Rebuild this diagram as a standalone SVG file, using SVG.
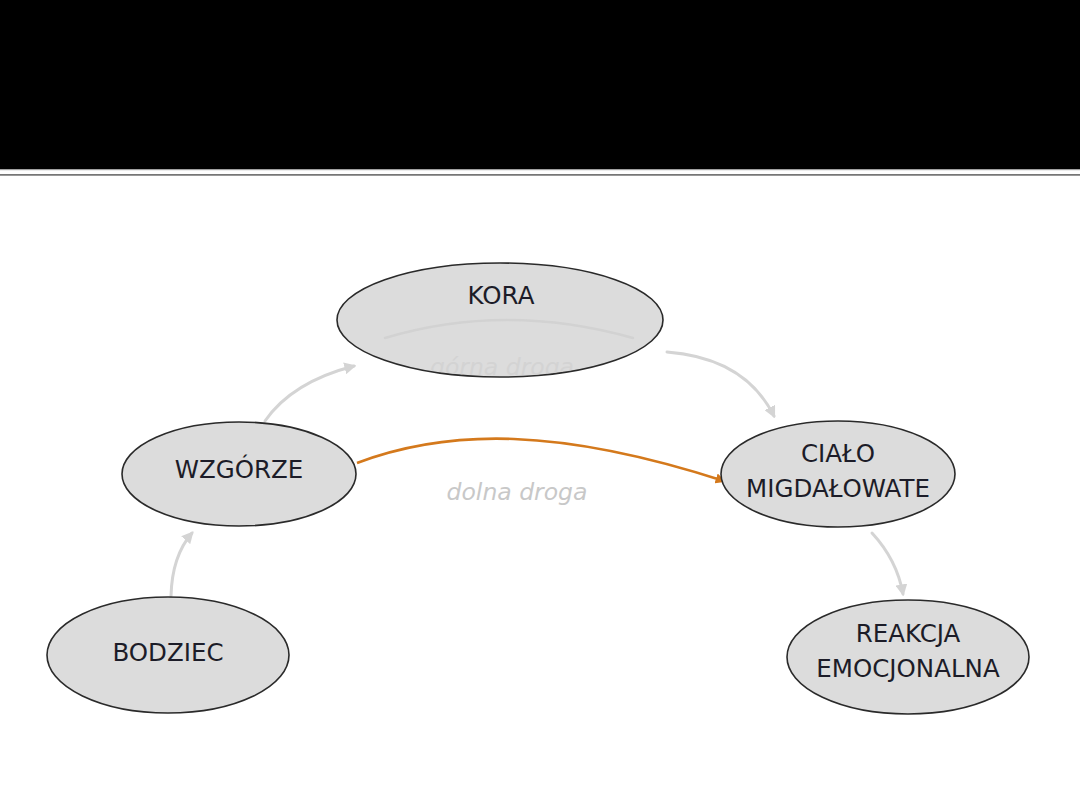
<svg xmlns="http://www.w3.org/2000/svg" width="1080" height="810" viewBox="0 0 1080 810">
<defs>
<style>
.node ellipse{fill:#dcdcdc;stroke:#2a2a2a;stroke-width:1.6}
.lbl{font-family:"DejaVu Sans",sans-serif;font-size:24.5px;fill:#1c1c28;text-anchor:middle}
.gray{fill:none;stroke:#d4d4d4;stroke-width:3;stroke-linecap:round}
.orange{fill:none;stroke:#d4791c;stroke-width:2.6}
.it{font-family:"DejaVu Sans",sans-serif;font-style:italic;font-size:23.5px;text-anchor:middle}
</style>
<clipPath id="koraClip"><ellipse cx="500" cy="320" rx="162" ry="56"/></clipPath>
<marker id="ag" viewBox="0 0 10 10" refX="8" refY="5" markerWidth="4" markerHeight="4" orient="auto" markerUnits="strokeWidth">
<path d="M0,0 L10,5 L0,10 z" fill="#d4d4d4"/>
</marker>
<marker id="ao" viewBox="0 0 10 10" refX="8" refY="5" markerWidth="4" markerHeight="4" orient="auto" markerUnits="strokeWidth">
<path d="M0,0 L10,5 L0,10 z" fill="#d4791c"/>
</marker>
</defs>
<rect x="0" y="0" width="1080" height="810" fill="#ffffff"/>
<rect x="0" y="0" width="1080" height="169" fill="#000000"/>
<rect x="0" y="169" width="1080" height="1.2" fill="#a0a0a0"/>
<rect x="0" y="174.2" width="1080" height="1.4" fill="#555555"/>

<g id="connectors">
<path class="gray" d="M171,596 Q172,556 192,533" marker-end="url(#ag)"/>
<path class="gray" d="M265,421 Q292,382 354,366" marker-end="url(#ag)"/>
<path class="gray" d="M667,352 Q745,358 774,416" marker-end="url(#ag)"/>
<path class="gray" d="M872,533 Q897,560 903,594" marker-end="url(#ag)"/>
<path class="orange" d="M357,463 C450,428 560,428 724,481" marker-end="url(#ao)"/>
</g>

<g id="kora" class="node">
<ellipse cx="500" cy="320" rx="163" ry="57"/>
<text class="lbl" x="501" y="304" font-size="28">KORA</text>
<g clip-path="url(#koraClip)">
<path d="M385,338 Q505,302 633,338" fill="none" stroke="#d2d2d2" stroke-width="2.5" stroke-linecap="round"/>
<text class="it" x="502" y="375" fill="#d3d3d3">górna droga</text>
</g>
</g>

<g id="wzgorze" class="node">
<ellipse cx="239" cy="474" rx="117" ry="52"/>
<text class="lbl" x="239" y="478">WZGÓRZE</text>
</g>

<g id="cialo" class="node">
<ellipse cx="838" cy="474" rx="117" ry="53"/>
<text class="lbl" x="838" y="462">CIAŁO</text>
<text class="lbl" x="838" y="497">MIGDAŁOWATE</text>
</g>

<g id="bodziec" class="node">
<ellipse cx="168" cy="655" rx="121" ry="58"/>
<text class="lbl" x="168" y="661">BODZIEC</text>
</g>

<g id="reakcja" class="node">
<ellipse cx="908" cy="657" rx="121" ry="57"/>
<text class="lbl" x="908" y="642">REAKCJA</text>
<text class="lbl" x="908" y="677">EMOCJONALNA</text>
</g>

<text class="it" x="517" y="500" fill="#c8c8c8">dolna droga</text>
</svg>
